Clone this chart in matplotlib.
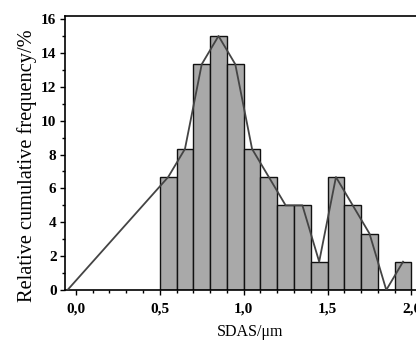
import numpy as np
import matplotlib
matplotlib.use('Agg')
import matplotlib.pyplot as plt
from matplotlib.ticker import MultipleLocator, FuncFormatter

# 直方图数据（柱子左边界与频率）
bin_left = [0.5, 0.6, 0.7, 0.8, 0.9, 1.0, 1.1, 1.2, 1.3, 1.4, 1.5, 1.6, 1.7, 1.8, 1.9]
freq = [6.67, 8.33, 13.33, 15.0, 13.33, 8.33, 6.67, 5.0, 5.0, 1.67, 6.67, 5.0, 3.33, 0.0, 1.67]

# 折线数据（柱中心）
line_x = [-0.05, 0.55, 0.65, 0.75, 0.85, 0.95, 1.05, 1.15, 1.25, 1.35, 1.45, 1.55, 1.65, 1.75, 1.85, 1.95]
line_y = [0.0, 6.67, 8.33, 13.33, 15.0, 13.33, 8.33, 6.67, 5.0, 5.0, 1.67, 6.67, 5.0, 3.33, 0.0, 1.67]

plt.rcParams['font.family'] = ['Liberation Serif', 'DejaVu Serif']

fig = plt.figure(figsize=(4.16, 3.40), dpi=100)
ax = fig.add_axes([65 / 416, 50 / 340, 380 / 416, 274 / 340])

ax.bar(bin_left, freq, width=0.1, align='edge', color='#a9a9a9', edgecolor='#111111', linewidth=1.0, zorder=2)
ax.plot(line_x, line_y, color='#444444', linewidth=1.3, zorder=3)

ax.set_xlim(-0.065, 2.2)
ax.set_ylim(0, 16.18)

ax.xaxis.set_major_locator(MultipleLocator(0.5))
ax.xaxis.set_minor_locator(MultipleLocator(0.1))
ax.yaxis.set_major_locator(MultipleLocator(2))
ax.yaxis.set_minor_locator(MultipleLocator(1))
ax.xaxis.set_major_formatter(FuncFormatter(lambda v, p: ('%.1f' % v).replace('.', ',')))
ax.yaxis.set_major_formatter(FuncFormatter(lambda v, p: '%d' % v))

ax.tick_params(which='major', direction='out', length=3.6, width=1.0, labelsize=11, pad=2.5)
ax.tick_params(axis='x', which='major', pad=5.5)
ax.tick_params(which='minor', direction='out', length=2.2, width=1.0)
for lab in ax.get_xticklabels() + ax.get_yticklabels():
    lab.set_fontweight('bold')

ax.spines['right'].set_visible(False)
for s in ['left', 'bottom', 'top']:
    ax.spines[s].set_linewidth(1.2)

ax.set_ylabel('Relative cumulative frequency/%', fontsize=14.7)
ax.yaxis.set_label_coords(-0.074, 0.453)
ax.set_xlabel('SDAS/μm', fontsize=11.5)
ax.xaxis.set_label_coords(0.487, -0.125)

fig.savefig('out.png', dpi=100)
